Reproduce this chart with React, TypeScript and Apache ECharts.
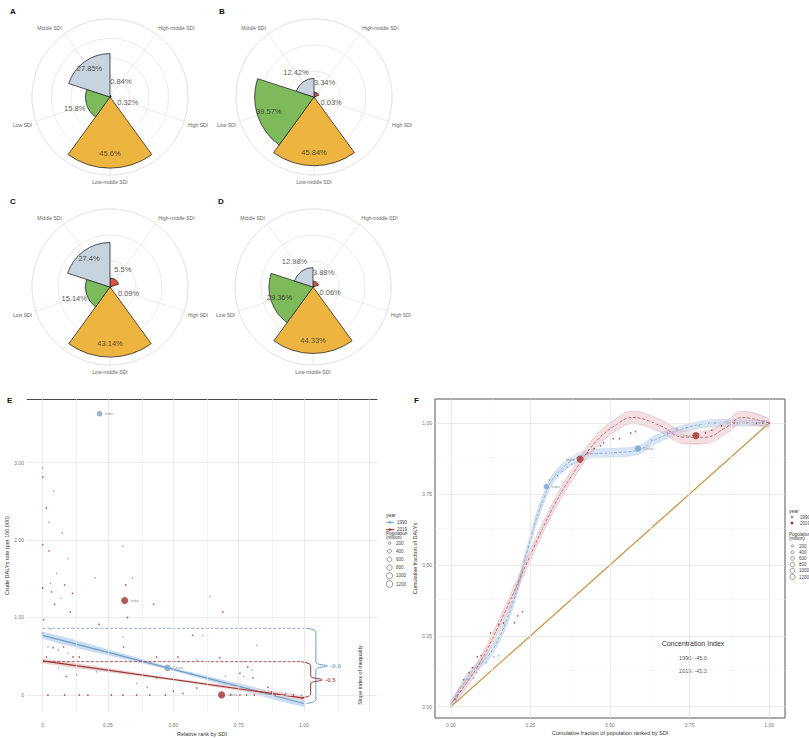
import React, { useEffect, useRef } from "react";
import * as echarts from "echarts";

// ---------------- Panels A-D : share by SDI region ----------------
const sdiCategories = ["High-middle SDI", "High SDI", "Low-middle SDI", "Low SDI", "Middle SDI"];
const sdiColors = ["#d8543c", "#9a7cc0", "#edb43f", "#7dba59", "#c5d4df"];
const polarPanels = ["A", "B", "C", "D"];
const shareA = [0.84, 0.32, 45.6, 15.8, 27.85];
const shareB = [3.34, 0.03, 45.84, 39.57, 12.42];
const shareC = [5.5, 0.09, 43.14, 15.14, 27.4];
const shareD = [3.88, 0.06, 44.33, 29.36, 12.98];
const radialMax = [50, 52, 48, 52];
const radialRings = [4, 3, 3, 3];

// ---------------- shared ----------------
const years = ["1990", "2019"];
const yearLineColors = ["#6f9bc9", "#9b3030"];
const yearPointColors = ["#7ea7d1", "#a53b3b"];
const popLegend = [200, 400, 600, 800, 1000, 1200];

// ---------------- Panel E : slope index ----------------
const eXTicks = [0, 0.25, 0.5, 0.75, 1];
const eXGrid = [0, 0.125, 0.25, 0.375, 0.5, 0.625, 0.75, 0.875, 1, 1.125, 1.25];
const eYTicks = [0, 1, 2, 3];
type Pt = [number, number, number, string?];
const ePoints1990: Pt[] = [
  [0.218, 3.63, 870, "India"], [0.478, 0.35, 1150, "China"],
  [0.0, 2.93, 8], [0.042, 2.63, 6], [0.024, 2.23, 10], [0.075, 2.09, 5], [0.097, 1.76, 25],
  [0.054, 1.57, 20], [0.03, 1.44, 8], [0.2, 1.51, 12], [0.307, 1.92, 6], [0.343, 1.51, 9],
  [0.031, 0.85, 30], [0.0, 0.8, 5], [0.02, 0.62, 10], [0.06, 0.58, 8], [0.097, 0.54, 12],
  [0.06, 0.35, 7], [0.13, 0.26, 9], [0.206, 0.3, 10], [0.307, 0.75, 8], [0.416, 0.41, 14],
  [0.36, 0.15, 6], [0.613, 0.77, 40], [0.64, 1.27, 6], [0.82, 0.64, 5], [0.77, 0.43, 9],
  [0.8, 0.32, 8], [0.77, 0.24, 10], [0.7, 0.24, 12], [0.59, 0.45, 6], [0.85, 0.04, 20],
  [0.93, 0.02, 50], [0.99, 0.0, 30], [0.57, 0.28, 8], [0.4, 0.1, 10], [0.16, 0.35, 6], [0.07, 1.25, 7],
];
const ePoints2019: Pt[] = [
  [0.314, 1.22, 1370, "India"], [0.685, 0.0, 1430, "China"],
  [0.0, 2.81, 10], [0.014, 2.41, 8], [0.0, 1.94, 12], [0.024, 1.86, 6], [0.084, 1.42, 10],
  [0.0, 1.38, 9], [0.034, 1.33, 7], [0.114, 1.31, 8], [0.046, 1.17, 15], [0.106, 1.07, 30],
  [0.318, 1.42, 6], [0.425, 1.17, 7], [0.325, 1.0, 9], [0.216, 0.91, 12], [0.004, 0.97, 6],
  [0.04, 0.61, 9], [0.08, 0.62, 10], [0.116, 0.49, 8], [0.14, 0.49, 25], [0.014, 0.49, 20],
  [0.09, 0.24, 8], [0.31, 0.62, 10], [0.436, 0.49, 22], [0.518, 0.49, 18], [0.436, 0.22, 9],
  [0.5, 0.05, 30], [0.537, 0.02, 20], [0.47, 0.0, 40], [0.173, 0.0, 60], [0.14, 0.0, 20],
  [0.084, 0.0, 15], [0.02, 0.0, 10], [0.263, 0.0, 12], [0.307, 0.0, 15], [0.36, 0.0, 10],
  [0.41, 0.0, 12], [0.574, 0.77, 10], [0.59, 0.09, 9], [0.69, 1.07, 8], [0.785, 0.36, 10],
  [0.805, 0.22, 12], [0.755, 0.28, 8], [0.678, 0.48, 9], [0.862, 0.1, 30], [0.876, 0.04, 15],
  [0.927, 0.0, 40], [0.96, 0.0, 20], [0.89, 0.0, 25], [0.81, 0.0, 15], [0.78, 0.0, 10],
  [0.755, 0.0, 12], [0.72, 0.0, 8],
];
const siiStart = [0.77, 0.44];
const siiEnd = [-0.11, -0.04];
const siiRef = [0.86, 0.43];
const siiHalfBand = [[0.045, 0.022, 0.045], [0.03, 0.015, 0.03]];
const siiLabels = ["-0.9", "-0.5"];
const braceStart = [1.01, 0.99];

// ---------------- Panel F : concentration curves ----------------
const fTicks = [0, 0.25, 0.5, 0.75, 1];
const fMinor = [0.125, 0.375, 0.625, 0.875];
const concX1990 = [0, 0.063, 0.125, 0.19, 0.24, 0.29, 0.34, 0.43, 0.5, 0.59, 0.64, 0.73, 0.83, 0.94, 1];
const concY1990 = [0.005, 0.12, 0.19, 0.35, 0.55, 0.73, 0.83, 0.89, 0.895, 0.905, 0.94, 0.98, 1.0, 1.0, 1.0];
const concCi1990 = [0.01, 0.013, 0.015, 0.018, 0.018, 0.018, 0.015, 0.015, 0.015, 0.015, 0.015, 0.012, 0.012, 0.01, 0.008];
const concX2019 = [0, 0.083, 0.156, 0.24, 0.32, 0.4, 0.46, 0.52, 0.57, 0.66, 0.73, 0.8, 0.865, 0.915, 1];
const concY2019 = [0.01, 0.14, 0.3, 0.51, 0.7, 0.85, 0.94, 0.995, 1.02, 0.99, 0.95, 0.95, 0.985, 1.02, 1.0];
const concCi2019 = [0.012, 0.015, 0.018, 0.018, 0.018, 0.02, 0.022, 0.022, 0.022, 0.022, 0.022, 0.022, 0.022, 0.022, 0.015];
const fPoints1990: Pt[] = [
  [0.02, 0.035, 10], [0.053, 0.095, 8], [0.07, 0.1, 12], [0.08, 0.12, 10], [0.11, 0.155, 15],
  [0.135, 0.175, 12], [0.15, 0.18, 9], [0.3, 0.776, 870, "India"], [0.31, 0.8, 10], [0.335, 0.815, 12],
  [0.35, 0.83, 10], [0.365, 0.845, 15], [0.38, 0.855, 8], [0.588, 0.91, 1150, "China"], [0.63, 0.94, 12],
  [0.68, 0.965, 15], [0.71, 0.98, 10], [0.74, 0.985, 12], [0.78, 0.99, 8], [0.81, 1.0, 10],
  [0.83, 1.0, 12], [0.87, 1.0, 15], [0.9, 1.0, 10], [0.93, 1.0, 12], [0.97, 1.0, 8], [1.0, 1.0, 10],
];
const fPoints2019: Pt[] = [
  [0.015, 0.025, 10], [0.04, 0.095, 12], [0.057, 0.12, 8], [0.068, 0.137, 10], [0.083, 0.176, 15],
  [0.095, 0.18, 8], [0.125, 0.26, 20], [0.15, 0.29, 12], [0.165, 0.295, 10], [0.2, 0.296, 10],
  [0.21, 0.32, 12], [0.225, 0.335, 8], [0.406, 0.873, 1370, "India"], [0.43, 0.895, 10], [0.45, 0.91, 12],
  [0.47, 0.92, 8], [0.48, 0.93, 10], [0.51, 0.945, 12], [0.53, 0.945, 8], [0.565, 0.965, 15],
  [0.58, 0.97, 10], [0.77, 0.956, 1430, "China"], [0.8, 0.965, 12], [0.82, 0.975, 10], [0.85, 0.99, 15],
  [0.89, 1.0, 10], [0.96, 1.0, 12], [0.98, 1.0, 8], [1.0, 1.0, 10],
];
const concIndex = ["-45.0", "-45.3"];

const FONT = "'Liberation Sans', Arial, sans-serif";
const sizeOf = (pop: number) => Math.max(1.6, Math.sqrt(pop) * 0.19);
const labelRadius = (v: number) => (v < 5 ? 12 : v < 20 ? v + 8 : v * 0.8);

function scatterSeries(pts: Pt[], color: string, xi: number, yi: number, labelPos: string) {
  return {
    type: "scatter", xAxisIndex: xi, yAxisIndex: yi, z: 6,
    data: pts.map((p) => ({ value: [p[0], p[1]], name: p[3] || "", symbolSize: sizeOf(p[2]) })),
    itemStyle: { color, opacity: 0.85 },
    label: { show: true, formatter: "{b}", position: labelPos, distance: 2, fontSize: 4, color: "#777" },
  };
}

function bandFill(xs: number[], lo: number[], hi: number[], fill: string, xi: number, yi: number, smooth: number) {
  return {
    type: "custom", xAxisIndex: xi, yAxisIndex: yi, z: 2, silent: true,
    data: [[xs[0], lo[0]]],
    renderItem: (_p: any, api: any) => {
      const pts: number[][] = [];
      xs.forEach((x, i) => pts.push(api.coord([x, hi[i]])));
      for (let i = xs.length - 1; i >= 0; i--) pts.push(api.coord([xs[i], lo[i]]));
      return { type: "polygon", shape: { points: pts, smooth }, style: { fill } };
    },
  };
}

function lineSeries(data: number[][], color: string, xi: number, yi: number, extra: any = {}) {
  return {
    type: "line", xAxisIndex: xi, yAxisIndex: yi, symbol: "none", z: 4, silent: true,
    data, lineStyle: { color, width: 1.1, ...(extra.lineStyle || {}) }, ...extra.rest,
  };
}

function bracePoints(x0: number, top: number, bottom: number, w: number) {
  const mid = (top + bottom) / 2;
  const xv = x0 + w * 0.45;
  const c = Math.min(0.05, (top - bottom) / 6);
  return [[x0, top], [xv, top - c], [xv, mid + c], [x0 + w, mid], [xv, mid - c], [xv, bottom + c], [x0, bottom]];
}

function legendBlock(x: number, yYear: number, keyStep: number, yPop: number, cy0: number, cStep: number, lineKey: boolean, scale: number) {
  const t = (text: string, tx: number, ty: number, size = 4.5, color = "#444") => ({
    type: "text", x: tx, y: ty, style: { text, fontSize: size, fill: color, fontFamily: FONT, textVerticalAlign: "middle" },
  });
  const els: any[] = [t("year", x, yYear, 5, "#333")];
  years.forEach((yr, i) => {
    const y = yYear + keyStep * (i + 1);
    if (lineKey) {
      els.push({ type: "line", shape: { x1: x, y1: y, x2: x + 8, y2: y }, style: { stroke: yearLineColors[i], lineWidth: 1 } });
      els.push({ type: "circle", shape: { cx: x + 4, cy: y, r: 1.3 }, style: { fill: yearPointColors[i] } });
    } else {
      els.push({ type: "circle", shape: { cx: x + 3, cy: y, r: 1.5 }, style: { fill: yearPointColors[i] } });
    }
    els.push(t(yr, x + 11, y));
  });
  els.push(t("Population", x, yPop, 4.5, "#333"));
  els.push(t("(million)", x, yPop + 4.5, 4.5, "#333"));
  popLegend.forEach((p, j) => {
    const cy = cy0 + j * cStep;
    els.push({ type: "circle", shape: { cx: x + 3.5, cy, r: (sizeOf(p) * scale) / 2 }, style: { fill: "none", stroke: "#555", lineWidth: 0.6 } });
    els.push(t(String(p), x + 10, cy));
  });
  return els;
}

function buildOption() {
  const shares = [shareA, shareB, shareC, shareD];
  const centers = [[110, 97], [314, 97], [110, 287], [313, 287]];
  const gridGray = "#e4e4e4";
  const series: any[] = [];

  shares.forEach((vals, i) => {
    series.push({
      type: "bar", coordinateSystem: "polar", polarIndex: i, barCategoryGap: "0%", z: 3,
      data: vals.map((v, k) => ({ value: v, itemStyle: { color: sdiColors[k], borderColor: "#2a2a2a", borderWidth: 0.8 } })),
    });
    series.push({
      type: "scatter", coordinateSystem: "polar", polarIndex: i, symbolSize: 0, z: 4, silent: true,
      data: vals.map((v, k) => ({ name: `${v}%`, value: [labelRadius(v), k] })),
      label: { show: true, formatter: "{b}", position: "inside", fontSize: 7.5, color: "#2b2b2b" },
    });
  });

  // ---- Panel E ----
  series.push({
    type: "line", xAxisIndex: 0, yAxisIndex: 0, data: [], z: 1, silent: true,
    markLine: {
      silent: true, symbol: "none", label: { show: false },
      data: [
        ...eXGrid.map((v) => ({ xAxis: v, lineStyle: { color: v % 0.25 === 0 ? "#e3e3e3" : "#eeeeee", width: 0.7, type: "solid" } })),
        ...eYTicks.map((v) => ({ yAxis: v, lineStyle: { color: "#e3e3e3", width: 0.7, type: "solid" } })),
      ],
    },
  });
  const bandXs = [0, 0.5, 1];
  years.forEach((_, i) => {
    const c = bandXs.map((x) => siiStart[i] + (siiEnd[i] - siiStart[i]) * x);
    series.push(bandFill(bandXs, c.map((v, k) => v - siiHalfBand[i][k]), c.map((v, k) => v + siiHalfBand[i][k]), i === 0 ? "#cadcef" : "#ecd3d3", 0, 0, 0.3));
  });
  years.forEach((_, i) => {
    series.push(lineSeries([[0, siiStart[i]], [1, siiEnd[i]]], yearLineColors[i], 0, 0, { lineStyle: { width: 1.2 } }));
    series.push(lineSeries([[0, siiRef[i]], [braceStart[i], siiRef[i]]], yearLineColors[i], 0, 0, { lineStyle: { type: "dashed", width: 0.8 } }));
    series.push(lineSeries(bracePoints(braceStart[i], siiRef[i], siiEnd[i], 0.08), yearLineColors[i], 0, 0, { lineStyle: { width: 1 }, rest: { smooth: 0.35 } }));
    series.push({
      type: "scatter", xAxisIndex: 0, yAxisIndex: 0, symbolSize: 0, z: 6, silent: true,
      data: [{ name: siiLabels[i], value: [braceStart[i] + 0.08, (siiRef[i] + siiEnd[i]) / 2] }],
      label: { show: true, formatter: "{b}", position: "right", distance: 3, fontSize: 6, fontWeight: "bold", color: yearLineColors[i] },
    });
  });
  series.push(scatterSeries(ePoints1990, yearPointColors[0], 0, 0, "right"));
  series.push(scatterSeries(ePoints2019, yearPointColors[1], 0, 0, "right"));

  // ---- Panel F ----
  series.push({
    type: "line", xAxisIndex: 2, yAxisIndex: 1, data: [], z: 1, silent: true,
    markLine: {
      silent: true, symbol: "none", label: { show: false },
      data: [
        ...fMinor.map((v) => ({ xAxis: v, lineStyle: { color: "#f0f0f0", width: 0.5, type: "solid" } })),
        ...fMinor.map((v) => ({ yAxis: v, lineStyle: { color: "#f0f0f0", width: 0.5, type: "solid" } })),
        ...fTicks.map((v) => ({ xAxis: v, lineStyle: { color: "#e3e3e3", width: 0.7, type: "solid" } })),
        ...fTicks.map((v) => ({ yAxis: v, lineStyle: { color: "#e3e3e3", width: 0.7, type: "solid" } })),
      ],
    },
  });
  series.push(lineSeries([[0, 0], [1, 1]], "#c99548", 2, 1, { lineStyle: { width: 1.3 } }));
  const concSets = [
    { xs: concX1990, ys: concY1990, ci: concCi1990, fill: "rgba(170,200,232,0.45)", edge: "#b3cbe6", mid: "#7ea6d2" },
    { xs: concX2019, ys: concY2019, ci: concCi2019, fill: "rgba(230,185,192,0.45)", edge: "#deaab1", mid: "#b5575f" },
  ];
  concSets.forEach((s) => {
    const lo = s.ys.map((v, k) => v - s.ci[k]);
    const hi = s.ys.map((v, k) => v + s.ci[k]);
    series.push(bandFill(s.xs, lo, hi, s.fill, 2, 1, 0.4));
    series.push(lineSeries(s.xs.map((x, k) => [x, lo[k]]), s.edge, 2, 1, { lineStyle: { width: 0.5 }, rest: { smooth: 0.4 } }));
    series.push(lineSeries(s.xs.map((x, k) => [x, hi[k]]), s.edge, 2, 1, { lineStyle: { width: 0.5 }, rest: { smooth: 0.4 } }));
    series.push(lineSeries(s.xs.map((x, k) => [x, s.ys[k]]), s.mid, 2, 1, { lineStyle: { width: 0.8, type: "dashed" }, rest: { smooth: 0.4 } }));
  });
  series.push(scatterSeries(fPoints1990, yearPointColors[0], 2, 1, "right"));
  series.push(scatterSeries(fPoints2019, yearPointColors[1], 2, 1, "left"));

  const tickText = { fontSize: 5, color: "#777", fontFamily: FONT };
  const titleText = { fontSize: 5.5, color: "#333", fontFamily: FONT };
  const hidden = { axisLine: { show: false }, axisTick: { show: false }, splitLine: { show: false } };

  const graphic: any[] = [
    ...polarPanels.map((p, i) => ({
      type: "text", x: centers[i][0] - 100 + (i % 2 === 1 ? 1 : 0) * 5, y: centers[i][1] - 90,
      style: { text: p, fontSize: 8, fontWeight: "bold", fill: "#111", fontFamily: FONT },
    })),
    { type: "text", x: 7, y: 396, style: { text: "E", fontSize: 8, fontWeight: "bold", fill: "#111", fontFamily: FONT } },
    { type: "text", x: 414, y: 396, style: { text: "F", fontSize: 8, fontWeight: "bold", fill: "#111", fontFamily: FONT } },
    { type: "text", x: 360, y: 675, rotation: Math.PI / 2, style: { text: "Slope index of inequality", fontSize: 5.5, fill: "#333", fontFamily: FONT, textAlign: "center", textVerticalAlign: "middle" } },
    { type: "text", x: 693, y: 643, style: { text: "Concentration Index", fontSize: 7, fill: "#333", fontFamily: FONT, textAlign: "center", textVerticalAlign: "middle" } },
    ...years.map((yr, i) => ({
      type: "text", x: 693, y: 658 + i * 13,
      style: { text: `${yr}: ${concIndex[i]}`, fontSize: 5.5, fill: "#555", fontFamily: FONT, textAlign: "center", textVerticalAlign: "middle" },
    })),
    ...legendBlock(386, 515, 7.3, 533, 543, 8.2, true, 1),
    ...legendBlock(789, 511, 6, 534, 546, 6.2, false, 0.8),
  ];

  return {
    animation: false,
    backgroundColor: "#ffffff",
    textStyle: { fontFamily: FONT },
    polar: centers.map((c) => ({ center: c, radius: 78 })),
    angleAxis: shares.map((_, i) => ({
      polarIndex: i, type: "category", data: sdiCategories, startAngle: 90, clockwise: true, z: 1,
      axisLine: { show: true, lineStyle: { color: gridGray, width: 0.8 } },
      axisTick: { show: false, alignWithLabel: true },
      axisLabel: { fontSize: 5, color: "#666", margin: 4, interval: 0 },
      splitLine: { show: true, lineStyle: { color: gridGray, width: 0.8 } },
    })),
    radiusAxis: shares.map((_, i) => ({
      polarIndex: i, type: "value", min: 0, max: radialMax[i], interval: radialMax[i] / radialRings[i], z: 1,
      axisLine: { show: false }, axisTick: { show: false }, axisLabel: { show: false },
      splitLine: { show: true, lineStyle: { color: gridGray, width: 0.8 } },
    })),
    grid: [
      { left: 27, top: 399, width: 350, height: 313 },
      { left: 435, top: 399, width: 350, height: 319, show: true, borderColor: "#555", borderWidth: 1, backgroundColor: "transparent" },
    ],
    xAxis: [
      {
        gridIndex: 0, type: "value", min: -0.06, max: 1.28, ...hidden,
        axisLabel: { ...tickText, customValues: eXTicks, margin: 10, formatter: (v: number) => (v === 0 ? "0" : v.toFixed(2)) },
        name: "Relative rank by SDI", nameLocation: "middle", nameGap: 19, nameTextStyle: titleText,
      },
      {
        gridIndex: 0, type: "value", min: -0.06, max: 1.28, position: "top",
        axisLine: { show: true, onZero: false, lineStyle: { color: "#444", width: 1 } },
        axisTick: { show: false }, axisLabel: { show: false }, splitLine: { show: false },
      },
      {
        gridIndex: 1, type: "value", min: -0.05, max: 1.05, ...hidden,
        axisLabel: { ...tickText, customValues: fTicks, margin: 4, formatter: (v: number) => v.toFixed(2) },
        name: "Cumulative fraction of population ranked by SDI", nameLocation: "middle", nameGap: 12, nameTextStyle: titleText,
      },
    ],
    yAxis: [
      {
        gridIndex: 0, type: "value", min: -0.22, max: 3.82, ...hidden,
        axisLabel: { ...tickText, customValues: eYTicks, margin: 3, formatter: (v: number) => (v === 0 ? "0" : v.toFixed(2)) },
        name: "Crude DALYs rate (per 100,000)", nameLocation: "middle", nameGap: 13, nameTextStyle: titleText,
      },
      {
        gridIndex: 1, type: "value", min: -0.04, max: 1.085, ...hidden,
        axisLabel: { ...tickText, customValues: fTicks, margin: 3, formatter: (v: number) => v.toFixed(2) },
        name: "Cumulative fraction of DALYs", nameLocation: "middle", nameGap: 15, nameTextStyle: titleText,
      },
    ],
    series,
    graphic,
  };
}

export default function App() {
  const ref = useRef<HTMLDivElement>(null);
  useEffect(() => {
    document.body.style.margin = "0";
    const chart = echarts.init(ref.current!, undefined, { renderer: "svg", width: 809, height: 738 });
    chart.setOption(buildOption() as any);
    return () => chart.dispose();
  }, []);
  return <div ref={ref} style={{ width: 809, height: 738, background: "#fff" }} />;
}
